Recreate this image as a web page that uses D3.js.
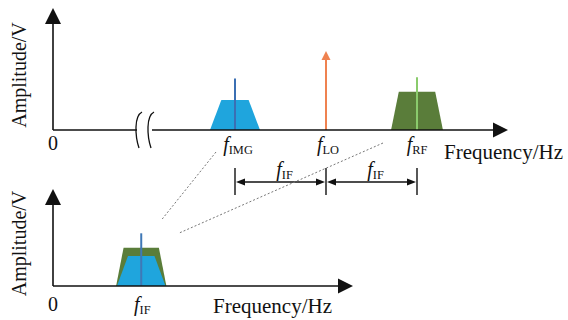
<!DOCTYPE html>
<html>
<head>
<meta charset="utf-8">
<script src="https://cdn.jsdelivr.net/npm/d3@7"></script>
<style>
  body { margin: 0; background: #fff; }
  svg { display: block; font-family: "Liberation Serif", "Times New Roman", serif; }
</style>
</head>
<body>
<svg id="chart" width="568" height="320"></svg>
<script>
// Spectrum components (abstract frequency units, amplitude units)
const bandNames = ["IMG", "RF"];
const bandCenters = [40, 80];
const bandBaseHalf = [5.5, 5.7];
const bandTopHalf = [3, 4];
const bandLevels = [2.5, 3.2];
const toneLevels = [4.3, 4.4];
const loFreq = 60;
const loLevel = 6.6;
const ifFreq = 20;
const breakFreq = 20;

const bandFill = { IMG: "#1fa5dd", RF: "#5a7d3a" };
const toneColor = { IMG: "#3b6fb3", RF: "#8acb6c" };
const loColor = "#ef8250";

const svg = d3.select("#chart");

// Scales
const xTop = d3.scaleLinear().domain([0, 100]).range([53, 508]);
const yTop = d3.scaleLinear().domain([0, 10.2]).range([130, 8]);
const xBot = d3.scaleLinear().domain([0, 68]).range([53, 353]);
const yBot = d3.scaleLinear().domain([0, 8.1]).range([286, 189]);

const fontMain = 20;

// Arrowhead helper
function arrowHead(g, x, y, dir, len, half, color) {
  let pts;
  if (dir === "up") pts = [[x, y], [x - half, y + len], [x + half, y + len]];
  else if (dir === "right") pts = [[x, y], [x - len, y - half], [x - len, y + half]];
  else pts = [[x, y], [x + len, y - half], [x + len, y + half]];
  g.append("path").attr("d", d3.line()(pts) + "Z").attr("fill", color);
}

function trapezoid(x, y, c, baseHalf, topHalf, level) {
  return d3.line()([
    [x(c - baseHalf), y(0)],
    [x(c - topHalf), y(level)],
    [x(c + topHalf), y(level)],
    [x(c + baseHalf), y(0)]
  ]) + "Z";
}

function fLabel(g, x, y, sub, size) {
  const t = g.append("text").attr("x", x).attr("y", y)
    .attr("text-anchor", "middle").attr("fill", "#111");
  t.append("tspan").attr("font-style", "italic").attr("font-size", size).text("f");
  t.append("tspan").attr("font-size", size * 0.62).attr("dy", 3).text(sub);
}

function axes(g, x, y, withBreak) {
  const x0 = x.range()[0], x1 = x.range()[1];
  const y0 = y.range()[0], y1 = y.range()[1];
  const ax = g.append("g").attr("stroke", "#111").attr("stroke-width", 1.6).attr("fill", "none");
  ax.append("line").attr("x1", x0).attr("x2", x0).attr("y1", y0).attr("y2", y1 + 12);
  if (withBreak) {
    const bx = x(breakFreq);
    ax.append("line").attr("x1", x0).attr("x2", bx - 7).attr("y1", y0).attr("y2", y0);
    ax.append("line").attr("x1", bx + 8).attr("x2", x1 - 12).attr("y1", y0).attr("y2", y0);
    // break marks: two bowed strokes
    [bx - 6, bx + 6].forEach(cx => {
      ax.append("path").attr("stroke-width", 1.3)
        .attr("d", `M${cx + 4},${y0 - 18} C${cx - 4},${y0 - 14} ${cx - 3},${y0 + 6} ${cx + 1},${y0 + 18}`);
    });
  } else {
    ax.append("line").attr("x1", x0).attr("x2", x1 - 12).attr("y1", y0).attr("y2", y0);
  }
  arrowHead(g, x0, y1, "up", 16, 8, "#111");
  arrowHead(g, x1, y0, "right", 15, 7.5, "#111");
}

// ---- Top spectrum ----
const topG = svg.append("g");

bandNames.forEach((n, i) => {
  topG.append("path")
    .attr("d", trapezoid(xTop, yTop, bandCenters[i], bandBaseHalf[i], bandTopHalf[i], bandLevels[i]))
    .attr("fill", bandFill[n]);
  topG.append("line")
    .attr("x1", xTop(bandCenters[i])).attr("x2", xTop(bandCenters[i]))
    .attr("y1", yTop(0)).attr("y2", yTop(toneLevels[i]))
    .attr("stroke", toneColor[n]).attr("stroke-width", 2);
});

// LO tone
topG.append("line")
  .attr("x1", xTop(loFreq)).attr("x2", xTop(loFreq))
  .attr("y1", yTop(0)).attr("y2", yTop(loLevel) + 6)
  .attr("stroke", loColor).attr("stroke-width", 2);
arrowHead(topG, xTop(loFreq), yTop(loLevel), "up", 9, 4.5, loColor);

axes(topG, xTop, yTop, true);

topG.append("text").attr("x", xTop(0)).attr("y", 150).attr("text-anchor", "middle")
  .attr("font-size", fontMain).attr("fill", "#111").text("0");
topG.append("text").attr("transform", `translate(26,${(yTop(0) + yTop.range()[1]) / 2 + 6}) rotate(-90)`)
  .attr("text-anchor", "middle").attr("font-size", fontMain).attr("fill", "#111").text("Amplitude/V");
topG.append("text").attr("x", 444).attr("y", 159)
  .attr("font-size", 21).attr("fill", "#111").text("Frequency/Hz");

fLabel(topG, xTop(bandCenters[0]) + 3, 151, "IMG", fontMain);
fLabel(topG, xTop(loFreq) + 2, 151, "LO", fontMain);
fLabel(topG, xTop(bandCenters[1]), 151, "RF", fontMain);

// ---- IF spacing annotation ----
const dim = svg.append("g");
const dimY = 182;
const dimPts = [bandCenters[0], loFreq, bandCenters[1]];
dimPts.forEach(f => {
  dim.append("line").attr("x1", xTop(f)).attr("x2", xTop(f))
    .attr("y1", dimY - 14).attr("y2", dimY + 13)
    .attr("stroke", "#111").attr("stroke-width", 1.4);
});
d3.pairs(dimPts).forEach(([a, b]) => {
  const xa = xTop(a), xb = xTop(b);
  dim.append("line").attr("x1", xa + 6).attr("x2", xb - 6)
    .attr("y1", dimY).attr("y2", dimY).attr("stroke", "#111").attr("stroke-width", 1.3);
  arrowHead(dim, xa + 1, dimY, "left", 9, 3.5, "#111");
  arrowHead(dim, xb - 1, dimY, "right", 9, 3.5, "#111");
  fLabel(dim, (xa + xb) / 2 + 4, 176, "IF", fontMain);
});

// ---- Dashed connectors ----
const conn = svg.append("g").attr("stroke", "#777").attr("stroke-width", 1)
  .attr("stroke-dasharray", "2,2").attr("fill", "none");
conn.append("line").attr("x1", xTop(bandCenters[0]) - 19).attr("y1", 152)
  .attr("x2", xBot(ifFreq) + 21).attr("y2", 219);
conn.append("line").attr("x1", xTop(bandCenters[1]) - 34).attr("y1", 143)
  .attr("x2", xBot(ifFreq) + 38).attr("y2", 233);

// ---- Bottom spectrum (down-converted to IF) ----
const botG = svg.append("g");
[1, 0].forEach(i => {
  botG.append("path")
    .attr("d", trapezoid(xBot, yBot, ifFreq, bandBaseHalf[i], bandTopHalf[i], bandLevels[i]))
    .attr("fill", bandFill[bandNames[i]]);
});
botG.append("line")
  .attr("x1", xBot(ifFreq)).attr("x2", xBot(ifFreq))
  .attr("y1", yBot(0)).attr("y2", yBot(toneLevels[1]))
  .attr("stroke", "#3f78b6").attr("stroke-width", 2);

axes(botG, xBot, yBot, false);

botG.append("text").attr("x", xBot(0)).attr("y", 311).attr("text-anchor", "middle")
  .attr("font-size", fontMain).attr("fill", "#111").text("0");
botG.append("text").attr("transform", `translate(26,${(yBot(0) + yBot.range()[1]) / 2 + 6}) rotate(-90)`)
  .attr("text-anchor", "middle").attr("font-size", fontMain).attr("fill", "#111").text("Amplitude/V");
botG.append("text").attr("x", 213).attr("y", 313)
  .attr("font-size", 21).attr("fill", "#111").text("Frequency/Hz");
fLabel(botG, xBot(ifFreq) + 1, 311, "IF", fontMain);
</script>
</body>
</html>
